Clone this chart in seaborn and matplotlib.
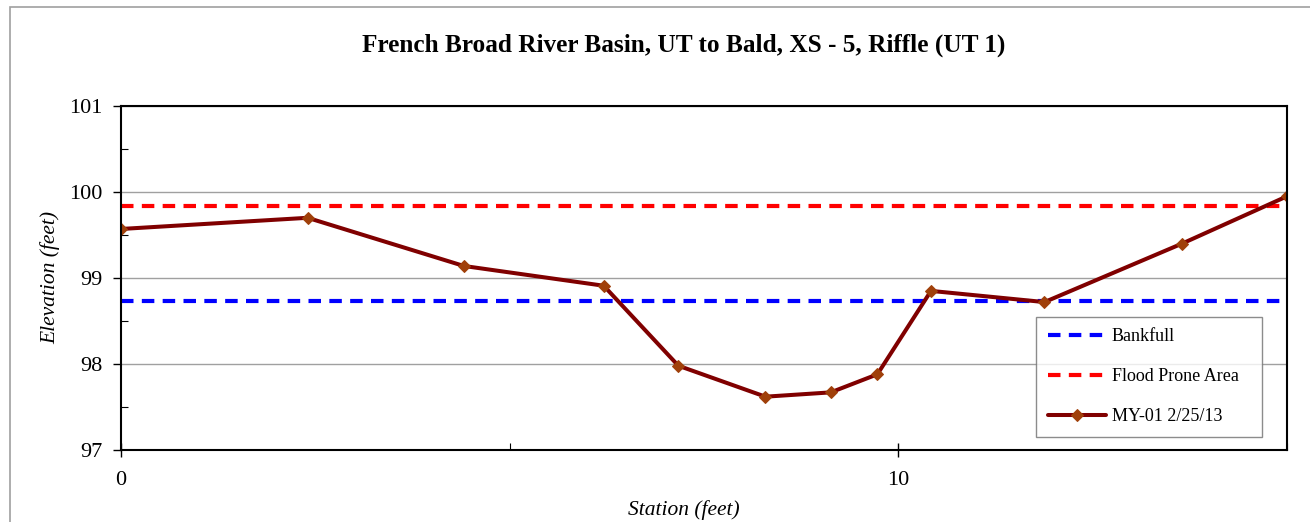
import matplotlib
matplotlib.use("Agg")
import matplotlib.pyplot as plt
import seaborn as sns
import pandas as pd
from matplotlib.patches import Rectangle
from matplotlib.ticker import MultipleLocator

station = [0.0, 2.40, 4.41, 6.21, 7.17, 8.29, 9.13, 9.73, 10.42, 11.88, 13.65, 15.0]
elevation = [99.57, 99.70, 99.14, 98.91, 97.98, 97.62, 97.67, 97.88, 98.85, 98.72, 99.40, 99.95]
bankfull = 98.73
flood_prone = 99.84
x_range = [0, 15]

sns.set_style("white")
plt.rcParams['font.family'] = ['Liberation Serif', 'DejaVu Serif']
plt.rcParams['text.color'] = 'black'
plt.rcParams['axes.labelcolor'] = 'black'
plt.rcParams['xtick.color'] = 'black'
plt.rcParams['ytick.color'] = 'black'

fig = plt.figure(figsize=(13.1, 5.22), dpi=100)
ax = fig.add_axes([121/1310, 1-450/522, (1287-121)/1310, (450-106)/522])

fig.patches.append(Rectangle((10/1310, -0.1), 1.2, (522-7)/522 + 0.1, transform=fig.transFigure,
                             fill=False, edgecolor='#a0a0a0', linewidth=1.2))

ax.yaxis.grid(True, which='major', color='#a0a0a0', linewidth=1.0)
ax.set_axisbelow(True)

df_bf = pd.DataFrame({'x': x_range, 'y': [bankfull]*2})
df_fp = pd.DataFrame({'x': x_range, 'y': [flood_prone]*2})
df = pd.DataFrame({'x': station, 'y': elevation})

sns.lineplot(data=df_bf, x='x', y='y', ax=ax, color='#0000ff', linewidth=3, linestyle=(0, (3, 2)), label='Bankfull')
sns.lineplot(data=df_fp, x='x', y='y', ax=ax, color='#ff0000', linewidth=3, linestyle=(0, (3, 2)), label='Flood Prone Area')
sns.lineplot(data=df, x='x', y='y', ax=ax, color='#800000', linewidth=2.9, marker='D', markersize=6,
             markerfacecolor='#a0400a', markeredgecolor='#a0400a', label='MY-01 2/25/13', sort=False)

ax.set_xlim(0, 15)
ax.set_ylim(97, 101)
ax.xaxis.set_major_locator(MultipleLocator(10))
ax.xaxis.set_minor_locator(MultipleLocator(5))
ax.yaxis.set_major_locator(MultipleLocator(1))
ax.yaxis.set_minor_locator(MultipleLocator(0.5))
ax.tick_params(axis='both', which='major', direction='out', length=6, width=1, labelsize=16, color='black')
ax.tick_params(axis='x', which='major', direction='inout', length=10, pad=10)
ax.tick_params(axis='y', which='major', pad=7)
ax.tick_params(axis='both', which='minor', direction='in', length=5, width=0.8, color='black')
ax.tick_params(axis='x', which='minor', bottom=True)
ax.tick_params(axis='y', which='minor', left=True)
ax.tick_params(axis='y', which='major', left=True)
ax.tick_params(axis='x', which='major', bottom=True)

for s in ax.spines.values():
    s.set_color('black')
    s.set_linewidth(1.5)

ax.set_xlabel('Station (feet)', fontsize=15.5, style='italic')
ax.set_ylabel('Elevation (feet)', fontsize=15.5, style='italic')
fig.text(684/1310, 1-45/522, 'French Broad River Basin, UT to Bald, XS - 5, Riffle (UT 1)',
         ha='center', va='center', fontsize=18.2, fontweight='bold')
ax.xaxis.set_label_coords((684-121)/1166, -0.147)
ax.yaxis.set_label_coords(-(121-60)/1166, 0.5)

leg = ax.legend(loc='lower left', bbox_to_anchor=((1036-121)/1166, (450-437)/344, (1262-1036)/1166, (437-316)/344),
                mode='expand', frameon=True, fancybox=False, edgecolor='#707070', fontsize=13,
                labelspacing=1.27, handlelength=3.2, handletextpad=0.35, borderpad=0.65, borderaxespad=0)
leg.get_frame().set_linewidth(1.0)

fig.savefig('out.png', dpi=100)
